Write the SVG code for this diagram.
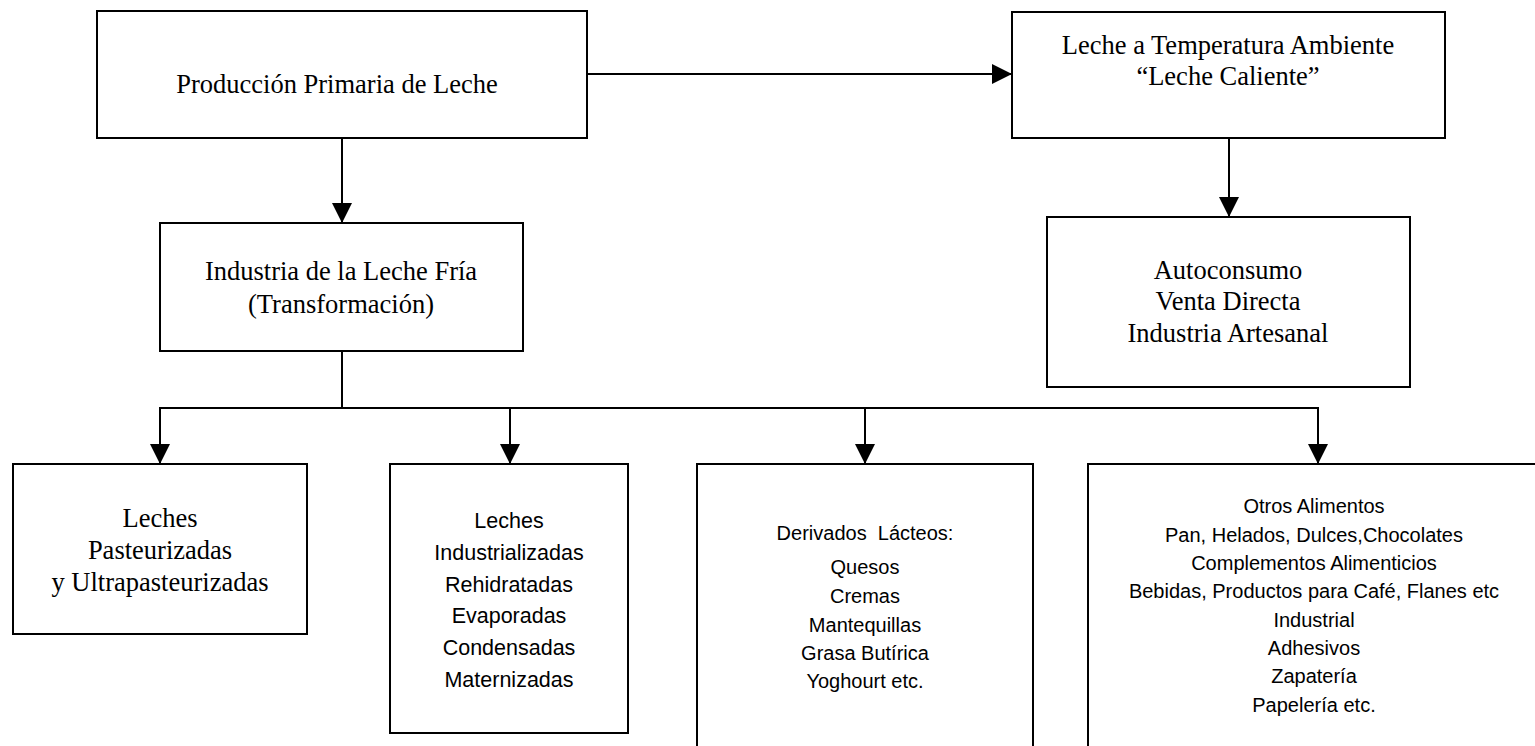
<svg xmlns="http://www.w3.org/2000/svg" width="1535" height="746" viewBox="0 0 1535 746">
  <style>
    .box { fill: #ffffff; stroke: #000000; stroke-width: 2; }
    .link { fill: none; stroke: #000000; stroke-width: 2; }
    .serif { font-family: "Liberation Serif", "Times New Roman", serif; font-size: 26.5px; fill: #000000; text-anchor: middle; }
    .sans { font-family: "Liberation Sans", Arial, sans-serif; fill: #000000; text-anchor: middle; }
    .s21 { font-size: 21.5px; }
    .s20 { font-size: 20px; }
  </style>
  <defs>
    <marker id="head" markerUnits="userSpaceOnUse" markerWidth="20" markerHeight="20" refX="20" refY="10" orient="auto">
      <path d="M0,0 L20,10 L0,20 Z" fill="#000000"/>
    </marker>
  </defs>
  <rect width="1535" height="746" fill="#ffffff"/>

  <!-- connectors -->
  <g id="connectors">
    <line class="link" x1="587" y1="74" x2="1012" y2="74" marker-end="url(#head)"/>
    <line class="link" x1="342" y1="138" x2="342" y2="223" marker-end="url(#head)"/>
    <line class="link" x1="1229" y1="138" x2="1229" y2="217" marker-end="url(#head)"/>
    <polyline class="link" points="342,351 342,408"/>
    <line class="link" x1="159" y1="408" x2="1319" y2="408"/>
    <line class="link" x1="160" y1="408" x2="160" y2="464" marker-end="url(#head)"/>
    <line class="link" x1="510" y1="408" x2="510" y2="464" marker-end="url(#head)"/>
    <line class="link" x1="865" y1="408" x2="865" y2="464" marker-end="url(#head)"/>
    <line class="link" x1="1318" y1="408" x2="1318" y2="464" marker-end="url(#head)"/>
  </g>

  <g id="produccion">
    <rect class="box" x="97" y="11" width="490" height="127"/>
    <text class="serif" x="337" y="93">Producción Primaria de Leche</text>
  </g>

  <g id="leche-caliente">
    <rect class="box" x="1012" y="12" width="433" height="126"/>
    <text class="serif" x="1228" y="54">Leche a Temperatura Ambiente</text>
    <text class="serif" x="1228" y="85">“Leche Caliente”</text>
  </g>

  <g id="industria">
    <rect class="box" x="160" y="223" width="363" height="128"/>
    <text class="serif" x="341" y="280">Industria de la Leche Fría</text>
    <text class="serif" x="341" y="313">(Transformación)</text>
  </g>

  <g id="autoconsumo">
    <rect class="box" x="1047" y="217" width="363" height="170"/>
    <text class="serif" x="1228" y="279">Autoconsumo</text>
    <text class="serif" x="1228" y="310">Venta Directa</text>
    <text class="serif" x="1228" y="342">Industria Artesanal</text>
  </g>

  <g id="pasteurizadas">
    <rect class="box" x="13" y="464" width="294" height="170"/>
    <text class="serif" x="160" y="527">Leches</text>
    <text class="serif" x="160" y="559">Pasteurizadas</text>
    <text class="serif" x="160" y="591">y Ultrapasteurizadas</text>
  </g>

  <g id="industrializadas">
    <rect class="box" x="390" y="464" width="238" height="269"/>
    <text class="sans s21" x="509" y="528">Leches</text>
    <text class="sans s21" x="509" y="560">Industrializadas</text>
    <text class="sans s21" x="509" y="592">Rehidratadas</text>
    <text class="sans s21" x="509" y="623">Evaporadas</text>
    <text class="sans s21" x="509" y="655">Condensadas</text>
    <text class="sans s21" x="509" y="687">Maternizadas</text>
  </g>

  <g id="derivados">
    <rect class="box" x="697" y="464" width="336" height="300"/>
    <text class="sans s20" x="865" y="540" xml:space="preserve">Derivados  Lácteos:</text>
    <text class="sans s20" x="865" y="574">Quesos</text>
    <text class="sans s20" x="865" y="603">Cremas</text>
    <text class="sans s20" x="865" y="632">Mantequillas</text>
    <text class="sans s20" x="865" y="660">Grasa Butírica</text>
    <text class="sans s20" x="865" y="688">Yoghourt etc.</text>
  </g>

  <g id="otros">
    <rect class="box" x="1088" y="464" width="460" height="300"/>
    <text class="sans s20" x="1314" y="513">Otros Alimentos</text>
    <text class="sans s20" x="1314" y="542">Pan, Helados, Dulces,Chocolates</text>
    <text class="sans s20" x="1314" y="570">Complementos Alimenticios</text>
    <text class="sans s20" x="1314" y="598">Bebidas, Productos para Café, Flanes etc</text>
    <text class="sans s20" x="1314" y="627">Industrial</text>
    <text class="sans s20" x="1314" y="655">Adhesivos</text>
    <text class="sans s20" x="1314" y="683">Zapatería</text>
    <text class="sans s20" x="1314" y="712">Papelería etc.</text>
  </g>
</svg>
